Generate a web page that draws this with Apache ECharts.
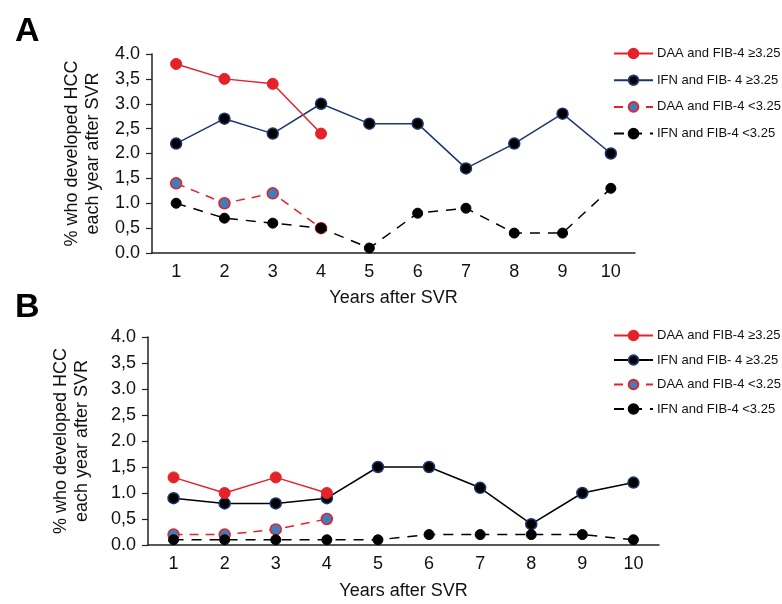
<!DOCTYPE html>
<html>
<head>
<meta charset="utf-8">
<script src="https://cdn.jsdelivr.net/npm/echarts@6/dist/echarts.min.js"></script>
<style>
  html, body { margin: 0; padding: 0; background: #fff; }
  #chart { width: 782px; height: 604px; }
</style>
</head>
<body>
<div id="chart"></div>
<script>
const years = ['1', '2', '3', '4', '5', '6', '7', '8', '9', '10'];
const yTickLabels = ['0.0', '0,5', '1.0', '1,5', '2.0', '2,5', '3.0', '3,5', '4.0'];
const seriesNames = ['DAA and FIB-4 ≥3.25', 'IFN and FIB- 4 ≥3.25', 'DAA and FIB-4 <3.25', 'IFN and FIB-4 <3.25'];

// panel A
const aDaaHigh = [3.8, 3.5, 3.4, 2.4];
const aIfnHigh = [2.2, 2.7, 2.4, 3.0, 2.6, 2.6, 1.7, 2.2, 2.8, 2.0];
const aDaaLow = [1.4, 1.0, 1.2, 0.5];
const aIfnLow = [1.0, 0.7, 0.6, 0.5, 0.1, 0.8, 0.9, 0.4, 0.4, 1.3];

// panel B
const bDaaHigh = [1.3, 1.0, 1.3, 1.0];
const bIfnHigh = [0.9, 0.8, 0.8, 0.9, 1.5, 1.5, 1.1, 0.4, 1.0, 1.2];
const bDaaLow = [0.2, 0.2, 0.3, 0.5];
const bIfnLow = [0.1, 0.1, 0.1, 0.1, 0.1, 0.2, 0.2, 0.2, 0.2, 0.1];

const RED = '#e5222b';
const NAVY = '#1c3670';
const BLUE = '#3f7dbd';
const FONT = 'Liberation Sans, Arial, sans-serif';

const chart = echarts.init(document.getElementById('chart'), null, { renderer: 'canvas' });

function xAxis(gridIndex, nameGap) {
    return {
        type: 'category',
        gridIndex: gridIndex,
        data: years,
        boundaryGap: true,
        name: 'Years after SVR',
        nameLocation: 'middle',
        nameGap: nameGap,
        nameTextStyle: { fontFamily: FONT, fontSize: 18, color: '#111' },
        axisLine: { lineStyle: { color: '#222', width: 1.5 } },
        axisTick: { alignWithLabel: true, length: 6, lineStyle: { color: '#222', width: 1.2 } },
        axisLabel: { fontFamily: FONT, fontSize: 18, color: '#111', margin: 10 },
        splitLine: { show: false }
    };
}

function yAxis(gridIndex, nameGap) {
    return {
        type: 'value',
        gridIndex: gridIndex,
        min: 0,
        max: 4,
        interval: 0.5,
        name: '% who developed HCC\neach year after SVR',
        nameLocation: 'middle',
        nameRotate: 90,
        nameGap: nameGap,
        nameTextStyle: { fontFamily: FONT, fontSize: 18, color: '#111', lineHeight: 21 },
        axisLine: { show: true, lineStyle: { color: '#222', width: 1.5 } },
        axisTick: { show: true, length: 6, lineStyle: { color: '#222', width: 1.2 } },
        axisLabel: {
            fontFamily: FONT, fontSize: 18, color: '#111', margin: 12,
            formatter: v => yTickLabels[Math.round(v / 0.5)]
        },
        splitLine: { show: false }
    };
}

function makeSeries(idx, suffix, daaHigh, ifnHigh, daaLow, ifnLow, ifnLineColor) {
    const base = { type: 'line', xAxisIndex: idx, yAxisIndex: idx, symbol: 'circle', symbolSize: 11, animation: false };
    return [
        Object.assign({}, base, {
            name: seriesNames[1] + suffix, data: ifnHigh, z: 3,
            lineStyle: { color: ifnLineColor, width: 1.5 },
            itemStyle: { color: '#000', borderColor: NAVY, borderWidth: 1.5 }
        }),
        Object.assign({}, base, {
            name: seriesNames[0] + suffix, data: daaHigh, z: 4,
            lineStyle: { color: RED, width: 1.5 },
            itemStyle: { color: RED, borderColor: RED, borderWidth: 1 }
        }),
        Object.assign({}, base, {
            name: seriesNames[2] + suffix, data: daaLow, z: 4,
            lineStyle: { color: RED, width: 1.5, type: [9, 7] },
            itemStyle: { color: BLUE, borderColor: RED, borderWidth: 1.5 }
        }),
        Object.assign({}, base, {
            name: seriesNames[3] + suffix, data: ifnLow, z: 5, symbolSize: 10,
            lineStyle: { color: '#000', width: 1.5, type: [10, 8] },
            itemStyle: { color: '#000', borderColor: '#000', borderWidth: 1 }
        })
    ];
}

function legend(top, gap, suffix) {
    return {
        orient: 'vertical',
        left: 608,
        top: top,
        itemWidth: 39,
        itemHeight: 12,
        itemGap: gap,
        selectedMode: false,
        data: seriesNames.map(n => n + suffix),
        textStyle: { fontFamily: FONT, fontSize: 13, color: '#111', padding: [0, 0, 0, -1] }
    };
}

chart.setOption({
    backgroundColor: '#fff',
    title: [
        { text: 'A', left: 10, top: 10, textStyle: { fontFamily: FONT, fontSize: 34, fontWeight: 'bold', color: '#000' } },
        { text: 'B', left: 10, top: 286, textStyle: { fontFamily: FONT, fontSize: 34, fontWeight: 'bold', color: '#000' } }
    ],
    legend: [legend(42, 13.7, ''), legend(324, 12, ' ')].map((l, i) => i === 1 ? Object.assign(l, { itemGap: 11.5 }) : l),
    grid: [
        { left: 152, top: 54, width: 483, height: 199 },
        { left: 148, top: 337, width: 511, height: 208 }
    ],
    xAxis: [xAxis(0, 36), xAxis(1, 37)],
    yAxis: [yAxis(0, 48), yAxis(1, 55)],
    series: [].concat(
        makeSeries(0, '', aDaaHigh, aIfnHigh, aDaaLow, aIfnLow, NAVY),
        makeSeries(1, ' ', bDaaHigh, bIfnHigh, bDaaLow, bIfnLow, '#000')
    )
});
</script>
</body>
</html>
